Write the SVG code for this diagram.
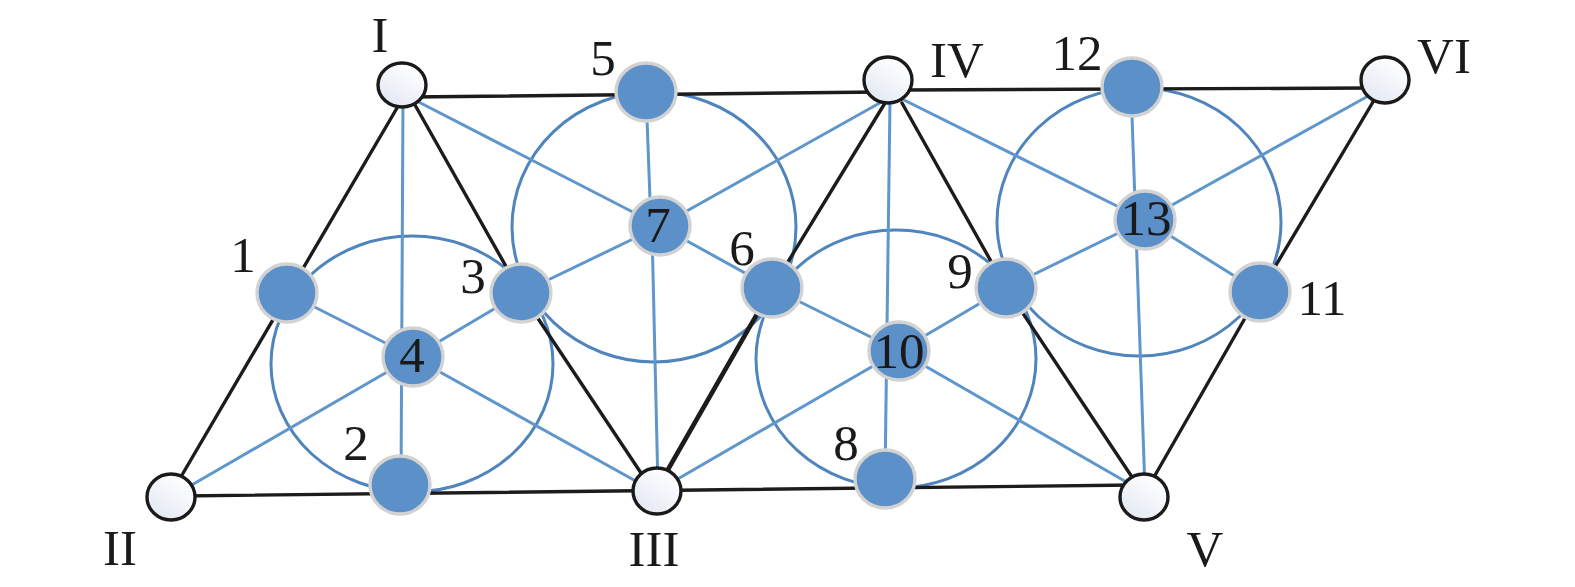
<svg xmlns="http://www.w3.org/2000/svg" width="1575" height="587" viewBox="0 0 1575 587">
<defs>
<linearGradient id="wg" x1="0.8" y1="0.1" x2="0.2" y2="0.9">
<stop offset="0" stop-color="#ffffff"/>
<stop offset="1" stop-color="#e4e9f3"/>
</linearGradient>
</defs>
<style>
.bk{stroke:#1c1c1c;stroke-width:3.4;fill:none;stroke-linecap:round}
.bl{stroke:#5f96cc;stroke-width:3;fill:none}
.ring{stroke:#4f84bd;stroke-width:3;fill:none}
.wn{fill:url(#wg);stroke:#1a1a1a;stroke-width:3.4}
.bn{fill:#5c90c9;stroke:#d2d2d2;stroke-width:3.4}
.t{font-family:"Liberation Serif","Times New Roman",serif;font-size:51px;fill:#1a1a1a;text-anchor:middle}
</style>
<rect width="1575" height="587" fill="#ffffff"/>
<g id="connectors">
<ellipse class="ring" cx="412" cy="364" rx="141" ry="128"/>
<ellipse class="ring" cx="654" cy="227" rx="142" ry="135"/>
<ellipse class="ring" cx="896" cy="359" rx="140" ry="129"/>
<ellipse class="ring" cx="1139" cy="222" rx="142" ry="134"/>
<line class="bl" x1="403" y1="100" x2="401" y2="485"/>
<line class="bl" x1="413" y1="357" x2="171" y2="497"/>
<line class="bl" x1="413" y1="357" x2="650" y2="489"/>
<line class="bl" x1="413" y1="357" x2="287" y2="293"/>
<line class="bl" x1="413" y1="357" x2="521" y2="293"/>
<line class="bl" x1="405" y1="95" x2="660" y2="226"/>
<line class="bl" x1="660" y1="226" x2="772" y2="288"/>
<line class="bl" x1="646" y1="92" x2="651" y2="226"/>
<line class="bl" x1="652" y1="230" x2="658" y2="488"/>
<line class="bl" x1="660" y1="226" x2="885" y2="100"/>
<line class="bl" x1="660" y1="226" x2="521" y2="293"/>
<line class="bl" x1="890" y1="100" x2="885" y2="479"/>
<line class="bl" x1="899" y1="351" x2="657" y2="491"/>
<line class="bl" x1="899" y1="351" x2="1135" y2="487"/>
<line class="bl" x1="899" y1="351" x2="772" y2="288"/>
<line class="bl" x1="899" y1="351" x2="1006" y2="288"/>
<line class="bl" x1="900" y1="98" x2="1145" y2="220"/>
<line class="bl" x1="1131" y1="87" x2="1145" y2="490"/>
<line class="bl" x1="1145" y1="220" x2="1370" y2="95"/>
<line class="bl" x1="1145" y1="220" x2="1006" y2="288"/>
<line class="bl" x1="1145" y1="220" x2="1260" y2="292"/>
<line class="bk" x1="397" y1="108" x2="182" y2="475"/>
<line class="bk" x1="415" y1="105" x2="521" y2="293"/>
<line class="bk" x1="521" y1="293" x2="647" y2="482"/>
<line class="bk" x1="410" y1="97" x2="880" y2="92"/>
<line class="bk" x1="900" y1="90" x2="1370" y2="88"/>
<line class="bk" x1="180" y1="496" x2="1135" y2="485"/>
<line class="bk" x1="885" y1="103" x2="772" y2="288"/>
<line class="bk" x1="772" y1="288" x2="662" y2="480" style="stroke-width:4.6"/>
<line class="bk" x1="902" y1="103" x2="1006" y2="288"/>
<line class="bk" x1="1006" y1="288" x2="1132" y2="477"/>
<line class="bk" x1="1373" y1="102" x2="1260" y2="292"/>
<line class="bk" x1="1260" y1="292" x2="1154" y2="477"/>
</g>
<g id="nI"><ellipse class="wn" cx="402" cy="85" rx="24" ry="22"/><text class="t" x="380" y="52">I</text></g>
<g id="nII"><ellipse class="wn" cx="171" cy="497" rx="24" ry="23"/><text class="t" x="120" y="565">II</text></g>
<g id="nIII"><ellipse class="wn" cx="657" cy="491" rx="24" ry="23"/><text class="t" x="654" y="566">III</text></g>
<g id="nIV"><ellipse class="wn" cx="888" cy="80" rx="24" ry="23"/><text class="t" x="957" y="77">IV</text></g>
<g id="nV"><ellipse class="wn" cx="1144" cy="497" rx="24" ry="23"/><text class="t" x="1205" y="566">V</text></g>
<g id="nVI"><ellipse class="wn" cx="1385" cy="80" rx="24" ry="23"/><text class="t" x="1444" y="73">VI</text></g>
<g id="n1"><ellipse class="bn" cx="287" cy="293" rx="30" ry="29"/><text class="t" x="243" y="272">1</text></g>
<g id="n2"><ellipse class="bn" cx="400" cy="485" rx="30" ry="29"/><text class="t" x="356" y="460">2</text></g>
<g id="n3"><ellipse class="bn" cx="521" cy="293" rx="30" ry="29"/><text class="t" x="473" y="293">3</text></g>
<g id="n4"><ellipse class="bn" cx="413" cy="357" rx="30" ry="29"/><text class="t" x="412" y="372">4</text></g>
<g id="n5"><ellipse class="bn" cx="646" cy="92" rx="30" ry="29"/><text class="t" x="603" y="75">5</text></g>
<g id="n6"><ellipse class="bn" cx="772" cy="288" rx="30" ry="29"/><text class="t" x="742" y="265">6</text></g>
<g id="n7"><ellipse class="bn" cx="660" cy="226" rx="30" ry="29"/><text class="t" x="658" y="242">7</text></g>
<g id="n8"><ellipse class="bn" cx="885" cy="479" rx="30" ry="29"/><text class="t" x="846" y="460">8</text></g>
<g id="n9"><ellipse class="bn" cx="1006" cy="288" rx="30" ry="29"/><text class="t" x="960" y="288">9</text></g>
<g id="n10"><ellipse class="bn" cx="899" cy="351" rx="30" ry="29"/><text class="t" x="899" y="368">10</text></g>
<g id="n11"><ellipse class="bn" cx="1260" cy="292" rx="30" ry="29"/><text class="t" x="1322" y="315">11</text></g>
<g id="n12"><ellipse class="bn" cx="1132" cy="87" rx="30" ry="29"/><text class="t" x="1077" y="70">12</text></g>
<g id="n13"><ellipse class="bn" cx="1145" cy="220" rx="30" ry="29"/><text class="t" x="1146" y="235">13</text></g>
</svg>
